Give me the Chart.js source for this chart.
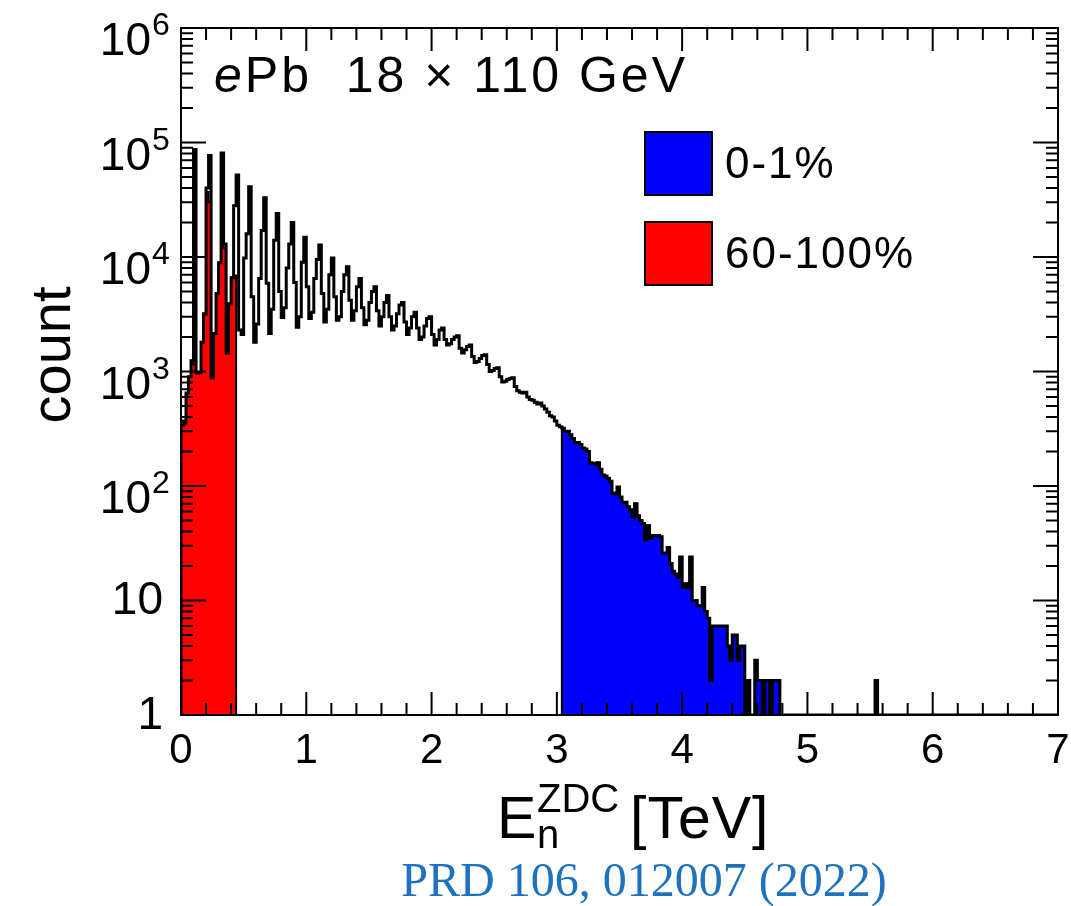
<!DOCTYPE html>
<html>
<head>
<meta charset="utf-8">
<title>ZDC neutron energy</title>
<script src="https://cdn.jsdelivr.net/npm/chart.js@4.4.1/dist/chart.umd.min.js"></script>
<style>
  html, body { margin: 0; padding: 0; background: #fff; }
  canvas { display: block; }
</style>
</head>
<body>
<canvas id="zdcChart" width="1071" height="906"></canvas>
<script>
// histogram binning (TeV)
const binWidth = 0.02;

// all events, bins of 0.02 TeV starting at 0
const totalCounts = [
  340, 370, 650, 900, 1240, 87000, 970, 980, 1800, 3200,        // 0.0
  40000, 77000, 880, 2150, 4800, 8900, 81000, 13000, 1450, 3900, // 0.2
  6600, 28000, 52000, 2300, 2100, 9800, 16000, 41000, 4500, 1800,
  2600, 6500, 17000, 33000, 5900, 2150, 3500, 14000, 24000, 5000, // 0.6
  2960, 3600, 8000, 13000, 20000, 6000, 2430, 3000, 9000, 14900,
  5500, 2900, 3300, 6500, 9500, 12700, 4800, 2700, 3500, 7000,  // 1.0
  9800, 4500, 2800, 3000, 5000, 7000, 8200, 4200, 2800, 3400,
  5500, 6500, 3600, 2560, 2800, 4000, 5000, 5500, 3400, 2500,   // 1.4
  3000, 4000, 4600, 3000, 2300, 2500, 3200, 3800, 4000, 2700,
  2100, 2400, 3000, 3300, 2400, 1900, 2000, 2500, 2900, 3000,   // 1.8
  2100, 1700, 1900, 2300, 2400, 1900, 1700, 1750, 1900, 2000,
  2050, 1600, 1450, 1550, 1650, 1700, 1350, 1200, 1220, 1300,   // 2.2
  1380, 1400, 1150, 1000, 1020, 1060, 1080, 900, 810, 820,
  850, 870, 880, 740, 680, 660, 650, 660, 600, 570,             // 2.6
  560, 540, 520, 530, 500, 470, 440, 410, 400, 370,
  340, 330, 320, 300, 300, 280, 260, 240, 240, 230,             // 3.0
  215, 210, 200, 160, 158, 155, 160, 140, 125, 122,
  117, 110, 87, 85, 98, 80, 72, 72, 66, 62,                     // 3.4
  53, 70, 55, 50, 47, 34, 45, 35, 37, 37,
  37, 36, 26, 26, 29, 21, 18, 17, 16, 24,                       // 3.8
  13, 14, 13, 24, 10, 10, 9, 9, 13, 8,
  7, 2, 6, 6, 6, 6, 6, 6, 4, 3,                                 // 4.2
  5, 5, 3, 4, 4, 0, 2, 0, 0, 3,
  2, 2, 0, 2, 2, 0, 2, 2, 2, 0                                  // 4.6
];

// 60-100% centrality (lowest energies)
const redCounts = [
  340, 350, 650, 900, 1240, 1150, 970, 980, 1800, 3150,
  37000, 30000, 880, 2150, 4800, 8900, 13000, 12000, 1450, 3900,
  6600, 6900
];

// 0-1% centrality = bins 152..238 of the total
const blueFirstBin = 152;
const blueLastBin = 238;

// isolated entries beyond the main distribution
const tailEdges = [5.54];
const tailCounts = [2];

const xTickLabels = [0, 1, 2, 3, 4, 5, 6, 7];
const yExponents = [0, 1, 2, 3, 4, 5, 6];
const legendLabels = ['0-1%', '60-100%'];
const legendColors = ['#0000ff', '#ff0000'];

const SANS = '"Liberation Sans", Arial, Helvetica, sans-serif';

// turn bin contents into points for a stepped line (empty bins sit on the axis floor)
function stepPoints(firstBin, counts) {
  const pts = [{ x: firstBin * binWidth, y: 1 }];
  counts.forEach((c, i) => pts.push({ x: (firstBin + i) * binWidth, y: Math.max(c, 1) }));
  pts.push({ x: (firstBin + counts.length) * binWidth, y: 1 });
  return pts;
}

const totalPoints = stepPoints(0, totalCounts);
tailEdges.forEach((e, i) => {
  totalPoints.push({ x: e, y: 1 });
  totalPoints.push({ x: e, y: tailCounts[i] });
  totalPoints.push({ x: e + binWidth, y: 1 });
});
totalPoints.push({ x: 7, y: 1 });

const bluePoints = stepPoints(blueFirstBin, totalCounts.slice(blueFirstBin, blueLastBin + 1));
const redPoints = stepPoints(0, redCounts);

function setSpacing(ctx, px) {
  if ('letterSpacing' in ctx) ctx.letterSpacing = px + 'px';
}

// ROOT-like frame, inward ticks and all the text
const rootFrame = {
  id: 'rootFrame',
  afterDraw(chart) {
    const { ctx, chartArea: a, scales: { x, y } } = chart;
    ctx.save();
    ctx.strokeStyle = '#000';
    ctx.fillStyle = '#000';

    // ticks
    ctx.lineWidth = 2;
    ctx.beginPath();
    for (let k = 0; k <= 35; k++) {
      const px = x.getPixelForValue(k * 0.2);
      const len = k % 5 === 0 ? 23 : 12;
      ctx.moveTo(px, a.bottom); ctx.lineTo(px, a.bottom - len);
      ctx.moveTo(px, a.top); ctx.lineTo(px, a.top + len);
    }
    for (let d = 0; d <= 6; d++) {
      for (let m = 1; m <= 9; m++) {
        if (d === 6 && m > 1) break;
        const py = y.getPixelForValue(m * Math.pow(10, d));
        const len = m === 1 ? 25 : 12;
        ctx.moveTo(a.left, py); ctx.lineTo(a.left + len, py);
        ctx.moveTo(a.right, py); ctx.lineTo(a.right - len, py);
      }
    }
    ctx.stroke();

    // frame
    ctx.strokeRect(a.left, a.top, a.right - a.left, a.bottom - a.top);

    // x tick labels
    ctx.font = '42px ' + SANS;
    ctx.textAlign = 'center';
    ctx.textBaseline = 'alphabetic';
    xTickLabels.forEach(v => ctx.fillText(String(v), x.getPixelForValue(v), a.bottom + 48));

    // y tick labels
    yExponents.forEach(e => {
      const py = y.getPixelForValue(Math.pow(10, e));
      ctx.font = '46px ' + SANS;
      ctx.textAlign = 'right';
      if (e < 2) {
        ctx.textBaseline = 'middle';
        ctx.fillText(e === 0 ? '1' : '10', 163, py + 1);
      } else {
        ctx.textBaseline = 'alphabetic';
        ctx.fillText('10', 151, py + 27);
        ctx.font = '32px ' + SANS;
        ctx.textAlign = 'left';
        ctx.fillText(String(e), 152, py + 7);
      }
    });

    // y title
    ctx.save();
    ctx.translate(70, 355);
    ctx.rotate(-Math.PI / 2);
    ctx.font = '56px ' + SANS;
    ctx.textAlign = 'center';
    ctx.textBaseline = 'alphabetic';
    ctx.fillText('count', 0, 0);
    ctx.restore();

    // x title: E_n^ZDC [TeV]
    ctx.textAlign = 'left';
    ctx.textBaseline = 'alphabetic';
    ctx.font = '59px ' + SANS;
    ctx.fillText('E', 497, 838);
    ctx.font = '40px ' + SANS;
    ctx.fillText('ZDC', 537, 812);
    ctx.fillText('n', 537, 848);
    ctx.font = '59px ' + SANS;
    setSpacing(ctx, 1);
    ctx.fillText('[TeV]', 630, 838);

    // header
    setSpacing(ctx, 3);
    ctx.font = 'italic 50px ' + SANS;
    ctx.fillText('e', 214, 92);
    const eW = ctx.measureText('e').width;
    ctx.font = '50px ' + SANS;
    ctx.fillText('Pb  18 \u00d7 110 GeV', 214 + eW, 92);

    // legend
    legendLabels.forEach((lab, i) => {
      const top = 132 + i * 90;
      ctx.fillStyle = legendColors[i];
      ctx.fillRect(645, top, 67, 63);
      ctx.strokeStyle = '#000';
      ctx.lineWidth = 2;
      ctx.strokeRect(645, top, 67, 63);
      ctx.fillStyle = '#000';
      setSpacing(ctx, 2);
      ctx.font = '44px ' + SANS;
      ctx.textBaseline = 'middle';
      ctx.fillText(lab, 725, top + 34);
    });

    // reference
    setSpacing(ctx, 0);
    ctx.fillStyle = '#1f72bd';
    ctx.font = '48px "Liberation Serif", "Times New Roman", serif';
    ctx.textAlign = 'center';
    ctx.textBaseline = 'alphabetic';
    ctx.fillText('PRD 106, 012007 (2022)', 644, 896);

    ctx.restore();
  }
};

new Chart(document.getElementById('zdcChart'), {
  type: 'line',
  data: {
    datasets: [
      {
        label: 'all',
        data: totalPoints,
        stepped: 'before',
        borderColor: '#000',
        borderWidth: 3,
        pointRadius: 0,
        fill: false,
        order: 0
      },
      {
        label: '0-1%',
        data: bluePoints,
        stepped: 'before',
        borderColor: '#000',
        borderWidth: 2,
        backgroundColor: '#0000ff',
        pointRadius: 0,
        fill: 'start',
        order: 1
      },
      {
        label: '60-100%',
        data: redPoints,
        stepped: 'before',
        borderColor: '#000',
        borderWidth: 2,
        backgroundColor: '#ff0000',
        pointRadius: 0,
        fill: 'start',
        order: 2
      }
    ]
  },
  options: {
    responsive: false,
    animation: false,
    devicePixelRatio: 1,
    parsing: false,
    layout: { padding: { left: 181, right: 13, top: 28, bottom: 191 } },
    scales: {
      x: { type: 'linear', min: 0, max: 7, display: false },
      y: { type: 'logarithmic', min: 1, max: 1e6, display: false }
    },
    plugins: {
      legend: { display: false },
      tooltip: { enabled: false }
    }
  },
  plugins: [rootFrame]
});
</script>
</body>
</html>
